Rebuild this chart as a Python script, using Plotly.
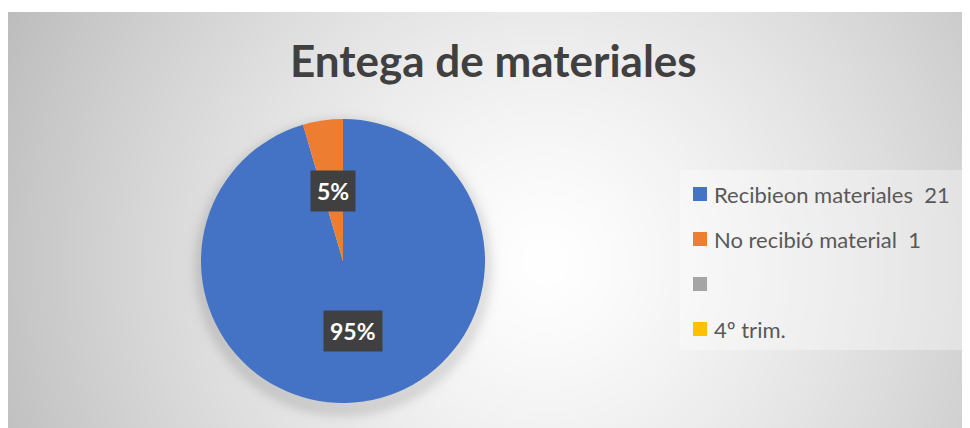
import base64
import struct
import zlib

import numpy as np
import plotly.graph_objects as go

# data
labels = ["Recibieon materiales  21", "No recibió material  1", "", "4º trim."]
values = [21, 1, 0, 0]
colors = ["#4472C4", "#ED7D31", "#A5A5A5", "#FFC000"]
title = "Entega de materiales"

# the page puts the plot 8px in from the top-left corner
OFF = 8
W, H = 970 - OFF, 428 - OFF


def px(x):
    return (x - OFF) / W


def py(y):
    return 1 - (y - OFF) / H


# pie geometry (page pixels)
cx, cy, rad = 343, 261, 142


def png_b64(arr):
    h, w = arr.shape
    raw = b"".join(b"\x00" + arr[i].tobytes() for i in range(h))

    def chunk(t, d):
        return struct.pack(">I", len(d)) + t + d + struct.pack(">I", zlib.crc32(t + d) & 0xFFFFFFFF)

    png = (b"\x89PNG\r\n\x1a\n" + chunk(b"IHDR", struct.pack(">IIBBBBB", w, h, 8, 0, 0, 0, 0))
           + chunk(b"IDAT", zlib.compress(raw, 9)) + chunk(b"IEND", b""))
    return "data:image/png;base64," + base64.b64encode(png).decode()


# radial gradient background (chart area starts at x=8, y=12 on the page)
bx0, by0 = 8, 12
bw, bh = 970 - bx0, 428 - by0
yy, xx = np.mgrid[0:bh, 0:bw].astype(float)
gx, gy = 545 - bx0, 262 - by0
d = np.hypot(xx - gx, yy - gy) / np.hypot(gx, gy)
g = 255 - 66 * np.clip(d, 0, 1.2) ** 1.3
# soft shadow under the pie
ds = np.hypot(xx - (cx - bx0), yy - (cy + 6 - by0))
g -= 26 * np.exp(-(np.clip(ds - rad, 0, None) / 9) ** 2) * (ds > rad - 10)
bg = np.clip(g, 0, 255).astype(np.uint8)

fig = go.Figure()
fig.add_trace(go.Pie(
    values=values, labels=labels, sort=False, direction="clockwise", rotation=0,
    marker=dict(colors=colors, line=dict(width=0)), textinfo="none", showlegend=False,
    domain=dict(x=[px(cx - rad), px(cx + rad)], y=[py(cy + rad), py(cy - rad)]),
))

annotations = [dict(text="<b>" + title + "</b>", x=px(493), y=py(60), xref="paper", yref="paper",
                    xanchor="center", yanchor="middle", showarrow=False,
                    font=dict(family="Lato", size=44, color="#404040"))]

# percentage labels
total = sum(values)
cum = 0
for v in values:
    if v > 0:
        th = np.radians(360 * (cum + v / 2) / total)
        lx = cx + 0.5 * rad * np.sin(th)
        ly = cy - 0.5 * rad * np.cos(th)
        annotations.append(dict(text="<b>%d%%</b>" % round(100 * v / total), x=px(lx), y=py(ly),
                                xref="paper", yref="paper", xanchor="center", yanchor="middle",
                                showarrow=False, bgcolor="#404040", borderpad=6,
                                font=dict(family="Lato", size=23, color="white")))
    cum += v

shapes = [dict(type="rect", xref="paper", yref="paper", x0=px(680), x1=px(962), y0=py(350), y1=py(170),
               fillcolor="rgba(255,255,255,0.35)", line=dict(width=0), layer="below")]
# legend
for i, (lab, col) in enumerate(zip(labels, colors)):
    yc = 194 + 45 * i
    shapes.append(dict(type="rect", xref="paper", yref="paper", x0=px(693), x1=px(707),
                       y0=py(yc + 7), y1=py(yc - 7), fillcolor=col, line=dict(width=0)))
    annotations.append(dict(text=lab.replace("  ", " \u00a0"), x=px(712), y=py(yc),
                            xref="paper", yref="paper", xanchor="left", yanchor="middle",
                            showarrow=False, font=dict(family="Lato", size=22, color="#595959")))

fig.update_layout(
    width=W, height=H, margin=dict(l=0, r=0, t=0, b=0), paper_bgcolor="white",
    annotations=annotations, shapes=shapes,
    images=[dict(source=png_b64(bg), xref="paper", yref="paper", x=px(bx0), y=py(by0),
                 sizex=bw / W, sizey=bh / H, xanchor="left", yanchor="top", sizing="stretch",
                 layer="below")],
)

fig.write_html("out.html")
